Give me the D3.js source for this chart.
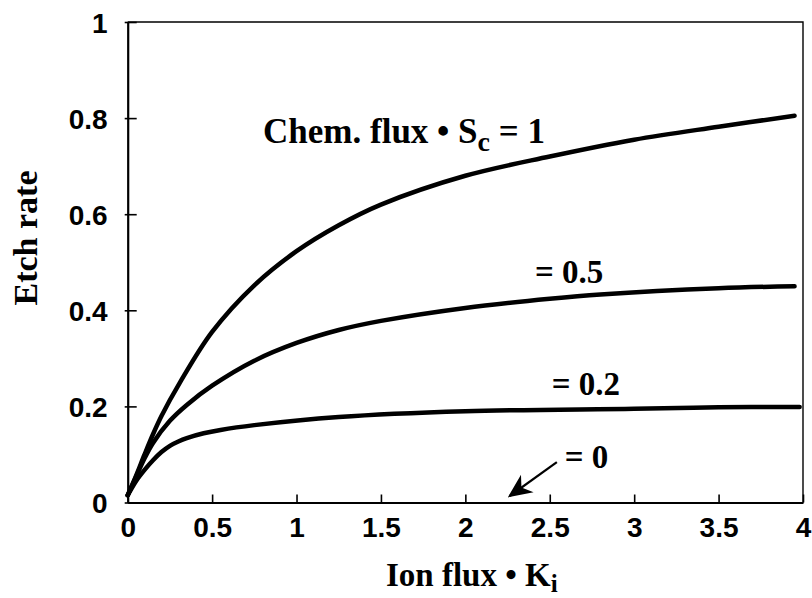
<!DOCTYPE html>
<html>
<head>
<meta charset="utf-8">
<script src="https://cdn.jsdelivr.net/npm/d3@7"></script>
<style>
	body { margin: 0; background: #fff; }
	.tick text { font-family: "Liberation Sans", Arial, sans-serif; font-weight: bold; font-size: 28px; fill: #000; }
	.serif { font-family: "Liberation Serif", "Times New Roman", serif; font-weight: bold; fill: #000; }
</style>
</head>
<body>
<div id="chart"></div>
<script>
// curves: [ion flux, etch rate]
let sc1 = [[0, 0.015], [0.05, 0.056], [0.1, 0.1], [0.15, 0.142], [0.2, 0.18], [0.31, 0.25], [0.5, 0.355], [0.75, 0.452], [1, 0.523], [1.25, 0.577], [1.5, 0.62], [2, 0.68], [2.5, 0.72], [3, 0.755], [3.5, 0.782], [3.95, 0.805]];
let sc05 = [[0, 0.015], [0.05, 0.054], [0.1, 0.092], [0.15, 0.124], [0.25, 0.17], [0.35, 0.203], [0.5, 0.243], [0.75, 0.295], [1, 0.332], [1.25, 0.359], [1.5, 0.378], [2, 0.405], [2.5, 0.424], [2.8, 0.433], [3.5, 0.446], [3.95, 0.45]];
let sc02 = [[0, 0.015], [0.05, 0.045], [0.1, 0.068], [0.15, 0.088], [0.2, 0.105], [0.25, 0.118], [0.3, 0.127], [0.35, 0.134], [0.45, 0.144], [0.55, 0.151], [0.75, 0.161], [1.25, 0.178], [2, 0.19], [3, 0.195], [3.5, 0.198], [3.98, 0.199]];

let xTicks = [0, 0.5, 1, 1.5, 2, 2.5, 3, 3.5, 4];
let yTicks = [0, 0.2, 0.4, 0.6, 0.8, 1];

// curve labels: [x, y, value text]
let labels = [[2.412, 0.457, "= 0.5"], [2.512, 0.224, "= 0.2"], [2.589, 0.072, "= 0"]];
let arrow = [[2.542, 0.084], [2.263, 0.0135]];

let width = 812;
let height = 598;
let margin = { top: 22, right: 9, bottom: 95.5, left: 127.7 };

let svg = d3.select('#chart')
	.append('svg')
	.attr('width', width)
	.attr('height', height);

let xScale = d3.scaleLinear()
	.domain([0, 4])
	.range([margin.left, width - margin.right]);

let yScale = d3.scaleLinear()
	.domain([0, 1])
	.range([height - margin.bottom, margin.top]);

// frame top/right
svg.append('path')
	.attr('d', `M${xScale(0)},${yScale(1)}H${xScale(4)}V${yScale(0)}`)
	.attr('fill', 'none')
	.attr('stroke', '#000')
	.attr('stroke-width', 1.4);

let xAxis = svg.append('g')
	.attr('transform', `translate(0,${yScale(0)})`)
	.call(d3.axisBottom(xScale).tickValues(xTicks).tickFormat(d3.format('')).tickSizeInner(-8).tickSizeOuter(0).tickPadding(19));

let yAxis = svg.append('g')
	.attr('transform', `translate(${xScale(0)},0)`)
	.call(d3.axisLeft(yScale).tickValues(yTicks).tickFormat(d3.format('')).tickSizeInner(-9).tickSizeOuter(0).tickPadding(20));

xAxis.select('.domain').attr('stroke-width', 2.2);
yAxis.select('.domain').attr('stroke-width', 2.2);
xAxis.selectAll('.tick line').attr('stroke-width', 1.6);
yAxis.selectAll('.tick line').attr('stroke-width', 1.6).attr('x1', -3);
xAxis.selectAll('.tick text').attr('dy', '0.55em');
yAxis.selectAll('.tick text').attr('dy', '0.36em');

let line = d3.line()
	.x(d => xScale(d[0]))
	.y(d => yScale(d[1]))
	.curve(d3.curveCatmullRom.alpha(0.5));

[sc1, sc05, sc02].forEach(s => {
	svg.append('path')
		.datum(s)
		.attr('d', line)
		.attr('fill', 'none')
		.attr('stroke', '#000')
		.attr('stroke-width', 4.5)
		.attr('stroke-linecap', 'round');
});

// Chem. flux label with subscript
let t1 = svg.append('text')
	.attr('class', 'serif')
	.attr('x', xScale(0.802))
	.attr('y', yScale(0.748))
	.style('font-size', '35px');
t1.append('tspan').text('Chem. flux • S');
t1.append('tspan').attr('dy', 8).style('font-size', '28px').text('c');
t1.append('tspan').attr('dy', -8).text(' = 1');

svg.selectAll('.val')
	.data(labels)
	.enter()
	.append('text')
	.attr('class', 'serif val')
	.attr('x', d => xScale(d[0]))
	.attr('y', d => yScale(d[1]))
	.style('font-size', '33px')
	.text(d => d[2]);

// arrow to the zero curve
svg.append('defs').append('marker')
	.attr('id', 'head')
	.attr('viewBox', '0 0 10 10')
	.attr('refX', 9)
	.attr('refY', 5)
	.attr('markerWidth', 24)
	.attr('markerHeight', 24)
	.attr('markerUnits', 'userSpaceOnUse')
	.attr('orient', 'auto')
	.append('path')
	.attr('d', 'M0,0.5L10,5L0,9.5L3,5Z')
	.attr('fill', '#000');

svg.append('line')
	.attr('x1', xScale(arrow[0][0]))
	.attr('y1', yScale(arrow[0][1]))
	.attr('x2', xScale(arrow[1][0]))
	.attr('y2', yScale(arrow[1][1]))
	.attr('stroke', '#000')
	.attr('stroke-width', 2.2)
	.attr('marker-end', 'url(#head)');

// axis titles
let xt = svg.append('text')
	.attr('class', 'serif')
	.attr('x', 386)
	.attr('y', 586)
	.style('font-size', '33px');
xt.append('tspan').text('Ion flux • K');
xt.append('tspan').attr('dy', 6).style('font-size', '25px').text('i');

svg.append('text')
	.attr('class', 'serif')
	.attr('transform', 'rotate(-90)')
	.attr('x', -238)
	.attr('y', 37)
	.style('text-anchor', 'middle')
	.style('font-size', '34px')
	.text('Etch rate');
</script>
</body>
</html>
